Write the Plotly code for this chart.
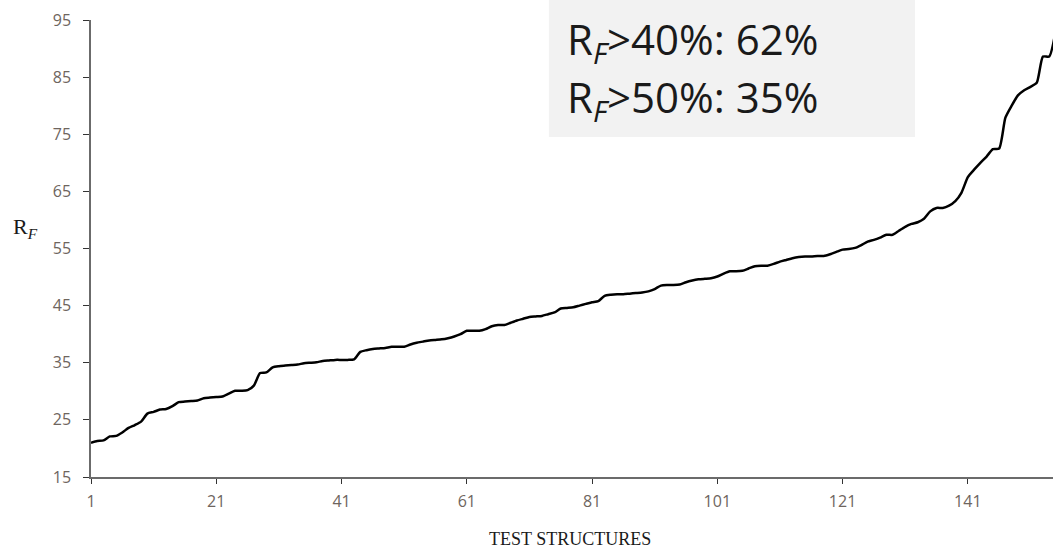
import plotly.graph_objects as go

structures = list(range(1, 156))
rf_values = [
    21.0, 21.3, 21.4, 22.1, 22.2, 22.8, 23.6, 24.1, 24.7, 26.1,
    26.4, 26.8, 26.9, 27.4, 28.1, 28.2, 28.3, 28.4, 28.8, 28.9,
    29.0, 29.1, 29.6, 30.1, 30.1, 30.2, 31.0, 33.2, 33.3, 34.2,
    34.4, 34.5, 34.6, 34.7, 34.9, 35.0, 35.1, 35.3, 35.4, 35.5,
    35.5, 35.5, 35.6, 36.9, 37.2, 37.4, 37.5, 37.6, 37.8, 37.8,
    37.8, 38.2, 38.5, 38.7, 38.9, 39.0, 39.1, 39.3, 39.6, 40.0,
    40.6, 40.6, 40.6, 40.9, 41.4, 41.6, 41.6, 42.0, 42.4, 42.7,
    43.0, 43.1, 43.2, 43.5, 43.8, 44.5, 44.6, 44.7, 45.0, 45.3,
    45.6, 45.8, 46.7, 46.9, 47.0, 47.0, 47.1, 47.2, 47.3, 47.5,
    47.9, 48.5, 48.6, 48.6, 48.7, 49.1, 49.4, 49.6, 49.7, 49.8,
    50.1, 50.6, 51.0, 51.0, 51.1, 51.5, 51.9, 52.0, 52.0, 52.3,
    52.7, 53.0, 53.3, 53.5, 53.6, 53.6, 53.7, 53.7, 54.0, 54.4,
    54.8, 54.9, 55.1, 55.6, 56.2, 56.5, 56.9, 57.4, 57.4, 58.1,
    58.8, 59.3, 59.6, 60.2, 61.5, 62.1, 62.1, 62.5, 63.3, 64.8,
    67.5, 68.8, 70.0, 71.1, 72.4, 72.5, 77.9, 80.0, 81.8, 82.7,
    83.3, 84.0, 88.6, 88.6, 93.0,
]
x_ticks = [1, 21, 41, 61, 81, 101, 121, 141]
y_ticks = [15, 25, 35, 45, 55, 65, 75, 85, 95]
box_lines = ["R<sub><i>F</i></sub>>40%: 62%", "R<sub><i>F</i></sub>>50%: 35%"]

fig = go.Figure()
fig.add_trace(go.Scatter(
    x=structures, y=rf_values, mode="lines",
    line=dict(color="black", width=2.5, shape="spline", smoothing=0.6),
    hoverinfo="skip", showlegend=False,
))

axis_col = "#6b6b6b"
tick_font = dict(family="Open Sans", size=16, color="#6e655e")

fig.update_xaxes(
    range=[1, 154.6], tickvals=x_ticks, ticktext=[str(v) for v in x_ticks],
    showgrid=False, zeroline=False, showline=True, linecolor=axis_col, linewidth=1.5,
    ticks="outside", ticklen=5, tickcolor="#333333", tickwidth=1,
    tickfont=tick_font, ticklabelstandoff=4,
)
fig.update_yaxes(
    range=[15, 95], tickvals=y_ticks, ticktext=[str(v) for v in y_ticks],
    showgrid=False, zeroline=False, showline=True, linecolor=axis_col, linewidth=1.5,
    ticks="outside", ticklen=6, tickcolor="#333333", tickwidth=1,
    tickfont=tick_font, ticklabelstandoff=9,
)

# grey text box
fig.add_shape(type="rect", xref="paper", yref="paper",
              x0=0.476, x1=0.8565, y0=0.744, y1=1.08,
              fillcolor="#f2f2f2", line=dict(width=0), layer="below")
for line_text, ypos in zip(box_lines, [0.954, 0.826]):
    fig.add_annotation(xref="paper", yref="paper", x=0.4927, y=ypos,
                       xanchor="left", yanchor="middle", showarrow=False, align="left",
                       text=line_text,
                       font=dict(family="Open Sans", size=42, color="#1a1a1a"))

# axis titles
fig.add_annotation(xref="paper", yref="paper", x=-0.083, y=0.545,
                   xanchor="left", yanchor="middle", showarrow=False,
                   text="R<sub><i>F</i></sub>",
                   font=dict(family="Liberation Serif", size=22, color="#1a1a1a"))
fig.add_annotation(xref="paper", yref="paper", x=0.498, y=-0.1357,
                   xanchor="center", yanchor="middle", showarrow=False,
                   text="TEST STRUCTURES",
                   font=dict(family="Liberation Serif", size=18, color="#1a1a1a"))

fig.update_layout(
    width=1053, height=548,
    margin=dict(l=91, r=0, t=20, b=71),
    paper_bgcolor="white", plot_bgcolor="white",
)

fig.write_html(
    "out.html",
    config={"displayModeBar": False},
    post_script="document.body.style.margin='0';document.body.style.overflow='hidden';",
)
